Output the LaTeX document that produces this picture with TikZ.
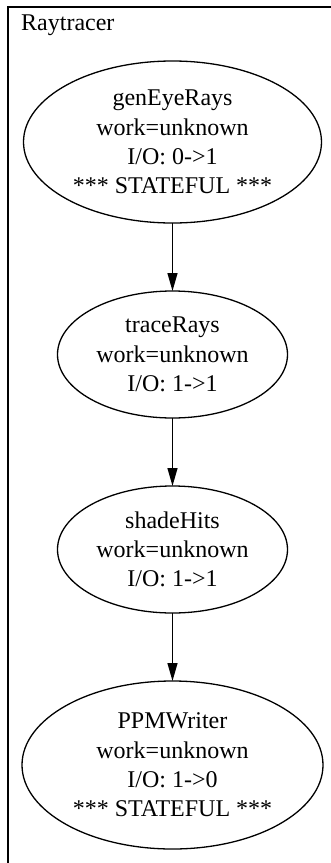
\documentclass[tikz,border=0pt]{standalone}
\usepackage{fontspec}
\setmainfont{Liberation Serif}
\usetikzlibrary{shapes,arrows.meta,positioning}

\begin{document}
\begin{tikzpicture}[
        x=1pt, y=1pt,
        node distance=68pt,
        filter/.style={draw, ellipse, line width=1.3pt, inner xsep=-6pt, inner ysep=-2pt, outer sep=0pt, align=center, font=\fontsize{24}{29.3}\selectfont},
        label/.style={inner sep=0pt, font=\fontsize{24}{29.3}\selectfont},
        arrow/.style={draw, line width=1.3pt, -{Triangle[length=18pt, width=10pt]}}
    ]
        \useasboundingbox (0,0) rectangle (330,-863);

        % Cluster frame and its title
        \draw [line width=1.3pt] (8,-880) |- (345,-7);
        \node (title) [label, anchor=base west] at (21,-30) {Raytracer};

        % Filters of the pipeline
        \node (gen) [filter, minimum width=298pt, minimum height=162pt] at (172.5,-142) {genEyeRays\\work=unknown\\I/O: 0->1\\*** STATEFUL ***};
        \node (trace) [filter, minimum width=230pt, minimum height=127pt, below=of gen] {traceRays\\work=unknown\\I/O: 1->1};
        \node (shade) [filter, minimum width=230pt, minimum height=127pt, below=of trace] {shadeHits\\work=unknown\\I/O: 1->1};
        \node (writer) [filter, minimum width=301pt, minimum height=168pt, below=of shade] {PPMWriter\\work=unknown\\I/O: 1->0\\*** STATEFUL ***};

        % Connections
        \draw [arrow] (gen.south) -- (trace.north);
        \draw [arrow] (trace.south) -- (shade.north);
        \draw [arrow] (shade.south) -- (writer.north);

    \end{tikzpicture}
\end{document}
